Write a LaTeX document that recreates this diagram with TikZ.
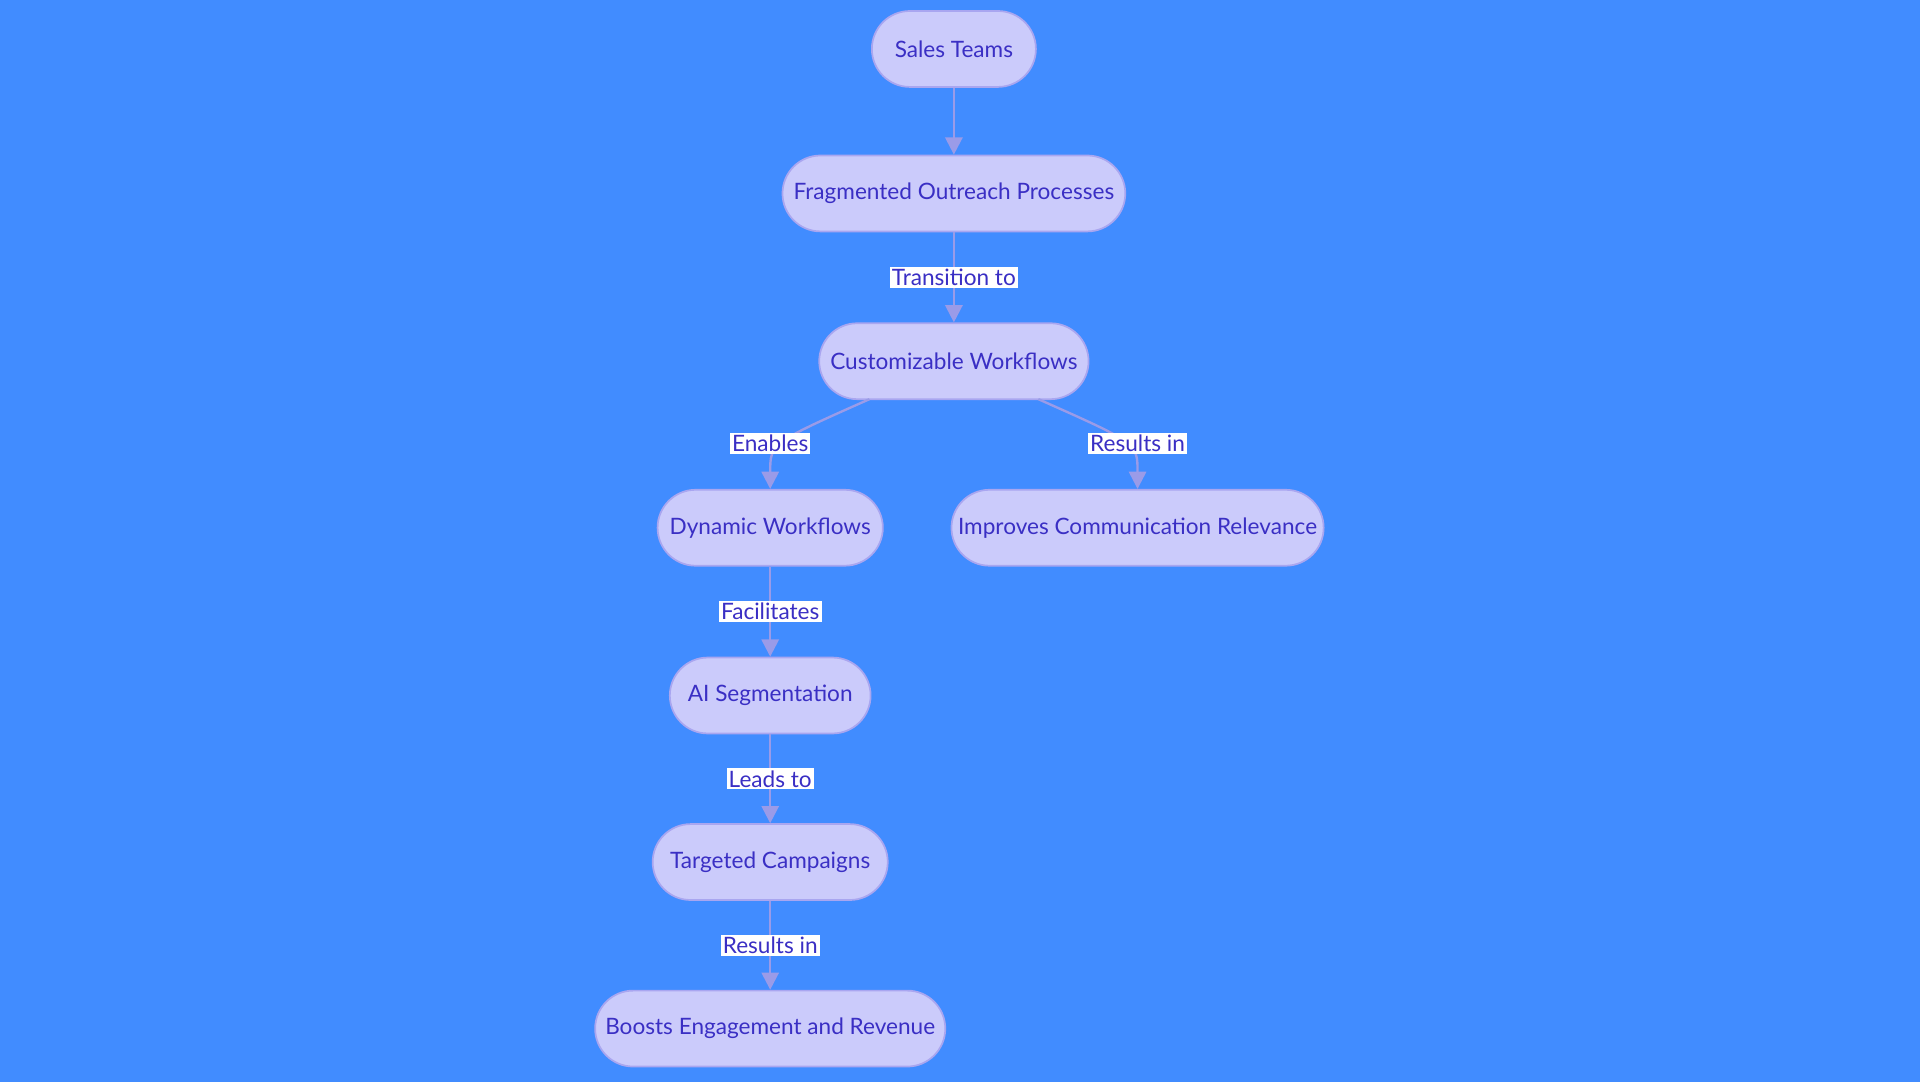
\documentclass[tikz,border=0pt]{standalone}
\usepackage{fontspec}
\setmainfont{Lato}
\usetikzlibrary{arrows.meta}
\definecolor{bg}{HTML}{418CFF}
\definecolor{nf}{HTML}{CBCBFB}
\definecolor{nd}{HTML}{A9A6F0}
\definecolor{tx}{HTML}{3A2FC4}
\definecolor{ed}{HTML}{9A9BE8}
\begin{document}
\begin{tikzpicture}[x=0.02cm,y=-0.02cm,
 box/.style={draw=nd,line width=0.8pt,fill=nf,rounded corners=0.62cm,minimum height=1.24cm,text=tx,font=\fontsize{10.5}{12}\selectfont,inner sep=0pt},
 lab/.style={fill=white,text=tx,font=\fontsize{10.5}{12}\selectfont,inner sep=1pt},
 e/.style={draw=ed,line width=1.1pt,-{Triangle[length=8pt,width=8pt]}}]
\fill[bg] (0,0) rectangle (1568,884);
\useasboundingbox (0,0) rectangle (1568,884);
\node[box,minimum width=2.68cm] (s) at (779,40) {Sales Teams};
\node[box,minimum width=5.6cm] (f) at (779,158) {Fragmented Outreach Processes};
\node[box,minimum width=4.4cm] (c) at (779,295) {Customizable Workflows};
\node[box,minimum width=3.68cm] (d) at (629,431) {Dynamic Workflows};
\node[box,minimum width=6.08cm] (i) at (929,431) {Improves Communication Relevance};
\node[box,minimum width=3.28cm] (a) at (629,568) {AI Segmentation};
\node[box,minimum width=3.84cm] (t) at (629,704) {Targeted Campaigns};
\node[box,minimum width=5.72cm] (b) at (629,840) {Boosts Engagement and Revenue};
\draw[e] (s) -- (f);
\draw[e] (f) -- node[lab]{Transition to} (c);
\coordinate (c1) at (710,326);
\coordinate (c2) at (848,326);
\draw[e] (c1) .. controls (629,362) .. (d.north);
\draw[e] (c2) .. controls (929,362) .. (i.north);
\node[lab] (l1) at (629,362) {Enables};
\node[lab] (l2) at (929,362) {Results in};
\draw[e] (d) -- node[lab]{Facilitates} (a);
\draw[e] (a) -- node[lab]{Leads to} (t);
\draw[e] (t) -- node[lab]{Results in} (b);
\end{tikzpicture}
\end{document}
